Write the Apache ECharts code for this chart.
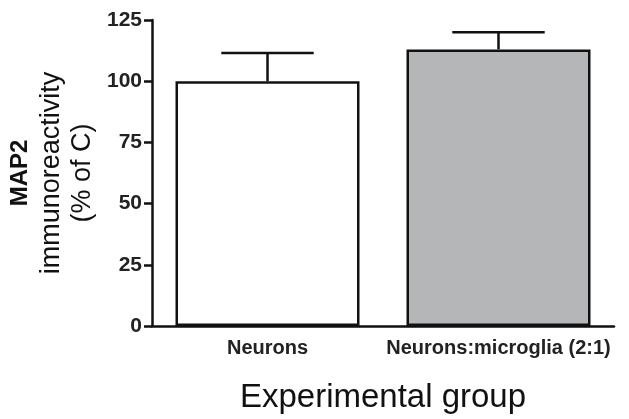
<!DOCTYPE html>
<html>
<head>
<meta charset="utf-8">
<script src="https://cdn.jsdelivr.net/npm/echarts@6/dist/echarts.min.js"></script>
<style>
  html, body { margin: 0; padding: 0; background: #fff; }
  #chart { width: 629px; height: 419px; }
</style>
</head>
<body>
<div id="chart"></div>
<script>
// MAP2 immunoreactivity per culture condition, mean with upper error (SEM)
const groups = ['Neurons', 'Neurons:microglia (2:1)'];
const meanValues = [100, 113];
const errorTops = [111.5, 120];
const barColors = ['#ffffff', '#b5b6b8'];
const yTicks = [0, 25, 50, 75, 100, 125];

const chart = echarts.init(document.getElementById('chart'));

const font = 'Liberation Sans, Arial, Helvetica, sans-serif';

chart.setOption({
  animation: false,
  backgroundColor: '#ffffff',
  grid: { left: 152, right: 15, top: 20, bottom: 93 },
  xAxis: {
    type: 'category',
    data: groups,
    name: 'Experimental group',
    nameLocation: 'middle',
    nameGap: 55,
    nameTextStyle: { fontFamily: font, fontSize: 33, color: '#111' },
    axisLine: { lineStyle: { color: '#111', width: 2.5 } },
    axisTick: { alignWithLabel: true, length: 9, lineStyle: { color: '#111', width: 2.5 } },
    axisLabel: { interval: 0, fontFamily: font, fontSize: 20, fontWeight: 'bold', color: '#222', margin: 12 }
  },
  yAxis: {
    type: 'value',
    min: yTicks[0],
    max: yTicks[yTicks.length - 1],
    interval: 25,
    name: '{a|MAP2}\n{b|immunoreactivity}\n{b|(% of C)}',
    nameLocation: 'middle',
    nameRotate: 90,
    nameGap: 52,
    nameTextStyle: {
      fontFamily: font,
      color: '#111',
      rich: {
        a: { fontFamily: font, fontSize: 24, fontWeight: 'bold', color: '#111', lineHeight: 31 },
        b: { fontFamily: font, fontSize: 27, color: '#111', lineHeight: 31 }
      }
    },
    splitLine: { show: false },
    axisLine: { show: true, lineStyle: { color: '#111', width: 2.5 } },
    axisTick: { show: true, length: 8, lineStyle: { color: '#111', width: 2.5 } },
    axisLabel: { fontFamily: font, fontSize: 21, fontWeight: 'bold', color: '#222', margin: 10 }
  },
  series: [
    {
      type: 'bar',
      barWidth: 184,
      data: meanValues.map((v, i) => ({
        value: v,
        itemStyle: { color: barColors[i], borderColor: '#111', borderWidth: 2.5 }
      })),
      z: 2
    },
    {
      type: 'custom',
      z: 3,
      data: meanValues.map((v, i) => [i, v, errorTops[i]]),
      renderItem: function (params, api) {
        const base = api.coord([api.value(0), api.value(1)]);
        const top = api.coord([api.value(0), api.value(2)]);
        const half = api.size([1, 0])[0] * 0.2;
        const style = { stroke: '#111', lineWidth: 2.5, fill: null };
        return {
          type: 'group',
          children: [
            { type: 'line', shape: { x1: base[0], y1: base[1], x2: top[0], y2: top[1] }, style: style },
            { type: 'line', shape: { x1: top[0] - half, y1: top[1], x2: top[0] + half, y2: top[1] }, style: style }
          ]
        };
      }
    }
  ]
});
</script>
</body>
</html>
